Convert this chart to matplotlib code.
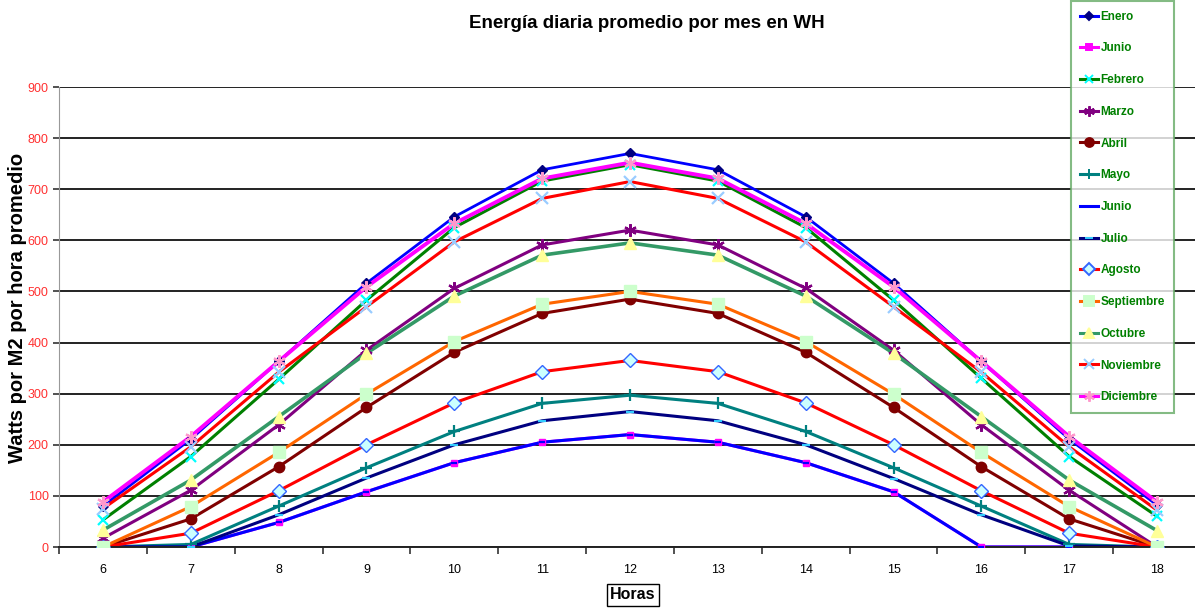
import matplotlib
matplotlib.use("Agg")
import matplotlib.pyplot as plt
from matplotlib.lines import Line2D

# datos: energia por hora (Watts por M2) para cada serie
horas = [6, 7, 8, 9, 10, 11, 12, 13, 14, 15, 16, 17, 18]
meses = ["Enero", "Junio", "Febrero", "Marzo", "Abril", "Mayo", "Junio", "Julio",
         "Agosto", "Septiembre", "Octubre", "Noviembre", "Diciembre"]

enero = [80, 211, 363, 516, 646, 738, 770, 738, 646, 516, 363, 211, 82]
junio_a = [0, 0, 48, 108, 165, 205, 220, 205, 165, 108, 0, 0, 0]
febrero = [53, 177, 328, 483, 625, 716, 748, 716, 625, 483, 330, 177, 60]
marzo = [17, 111, 239, 385, 506, 591, 620, 591, 506, 385, 239, 111, 0]
abril = [0, 55, 157, 273, 381, 457, 485, 457, 381, 273, 157, 55, 0]
mayo = [0, 5, 80, 155, 226, 281, 297, 281, 226, 155, 80, 5, 0]
junio_b = [0, 0, 48, 108, 165, 205, 220, 205, 165, 108, 0, 0, 0]
julio = [0, 0, 63, 135, 200, 247, 265, 247, 200, 134, 63, 2, 0]
agosto = [0, 27, 110, 200, 282, 343, 365, 343, 282, 200, 110, 27, 0]
septiembre = [0, 79, 185, 299, 402, 475, 500, 475, 402, 299, 185, 79, 0]
octubre = [33, 131, 255, 379, 491, 571, 595, 571, 491, 379, 255, 131, 32]
noviembre = [75, 196, 342, 470, 597, 682, 715, 682, 597, 470, 342, 196, 72]
diciembre = [88, 216, 363, 509, 633, 721, 752, 721, 633, 509, 363, 216, 88]

series = [enero, junio_a, febrero, marzo, abril, mayo, junio_b, julio,
          agosto, septiembre, octubre, noviembre, diciembre]

# estilo excel: color de linea, marcador, relleno, borde, tamano
asterisco = (6, 2, 0)
estilos = [
    ("#0000FF", "D", "#000080", "#000080", 5),
    ("#FF00FF", "s", "#FF00FF", "#FF00FF", 4.5),
    ("#008000", "x", "#00FFFF", "#00FFFF", 7),
    ("#800080", asterisco, "#800080", "#800080", 9),
    ("#800000", "o", "#800000", "#800000", 7.5),
    ("#008080", "+", "#008080", "#008080", 9),
    ("#0000FF", "_", "#0000FF", "#0000FF", 5),
    ("#000080", "_", "#33CCFF", "#33CCFF", 6),
    ("#FF0000", "D", "#CCFFFF", "#3366FF", 7),
    ("#FF6600", "s", "#CCFFCC", "#CCFFCC", 8),
    ("#339966", "^", "#FFFF99", "#FFFF99", 9),
    ("#FF0000", "x", "#99CCFF", "#99CCFF", 8),
    ("#FF00FF", asterisco, "#FF99CC", "#FF99CC", 9),
]
anchos = [2.0, 2.2, 2.2, 2.2, 2.2, 2.2, 2.2, 2.2, 2.2, 2.2, 2.6, 2.2, 2.8]

fuente = ["Liberation Sans", "DejaVu Sans"]

fig = plt.figure(figsize=(11.95, 6.12), dpi=100)
ax = fig.add_axes([59 / 1195, 65 / 612, 1142 / 1195, 460 / 612])

# primero las lineas, luego los marcadores encima (como excel)
for vals, (lc, mk, mf, me, ms), lw in zip(series, estilos, anchos):
    ax.plot(horas, vals, color=lc, lw=lw, zorder=2, solid_joinstyle="miter")
for vals, (lc, mk, mf, me, ms), lw in zip(series, estilos, anchos):
    ax.plot(horas, vals, ls="none", marker=mk, ms=ms, mfc=mf, mec=me,
            mew=1.6 if mk in ("x", "+", "_", asterisco) else 1.0, zorder=3)

ax.set_xlim(5.5, 18.5)
ax.set_ylim(0, 900)
ax.set_yticks(range(0, 901, 100))
ax.set_xticks(horas)
ax.set_xticks([h + 0.5 for h in horas[:-1]] + [5.5], minor=True)
ax.tick_params(axis="x", which="major", length=0, pad=12, labelsize=9)
ax.tick_params(axis="x", which="minor", length=5, width=1.2, direction="out", color="#333333")
ax.tick_params(axis="y", length=4, width=1.2, color="#333333", labelcolor="#FF3030",
               labelsize=9, pad=3.5)
for lab in ax.get_xticklabels() + ax.get_yticklabels():
    lab.set_family(fuente)

ax.grid(axis="y", color="#222222", lw=1.4, zorder=1)
ax.set_axisbelow(True)
for s in ["top", "right"]:
    ax.spines[s].set_visible(False)
ax.spines["left"].set_color("#999999")
ax.spines["bottom"].set_color("#222222")
ax.spines["bottom"].set_linewidth(1.4)

ax.set_ylabel("Watts por M2 por hora promedio", fontsize=14.5, fontweight="bold",
              family=fuente)
ax.yaxis.set_label_coords(-0.028, 0.52)
ax.set_xlabel("Horas", fontsize=11.5, fontweight="bold", family=fuente,
              bbox=dict(boxstyle="square,pad=0.2", fc="white", ec="black", lw=1))
ax.xaxis.set_label_coords(0.5026, -0.088)
fig.text(0.541, 0.962, "Energía diaria promedio por mes en WH", ha="center", va="center",
         fontsize=13.5, fontweight="bold", family=fuente)

# leyenda
handles = []
for lc, mk, mf, me, ms in estilos:
    handles.append(Line2D([], [], color=lc, lw=2.2, marker=mk, ms=ms * 0.85, mfc=mf,
                          mec=me, mew=1.4))
leg = fig.legend(handles, meses, loc="upper left", bbox_to_anchor=(1071 / 1195, 0.998),
                 frameon=True, fancybox=False, edgecolor="#66AA66", facecolor="white",
                 prop={"family": fuente, "weight": "bold", "size": 8.5},
                 labelspacing=1.67, handlelength=1.5, handletextpad=0.2,
                 borderpad=0.8, borderaxespad=0)
leg.get_frame().set_linewidth(1.5)
for t in leg.get_texts():
    t.set_color("#008000")

fig.savefig("out.png", dpi=100)
